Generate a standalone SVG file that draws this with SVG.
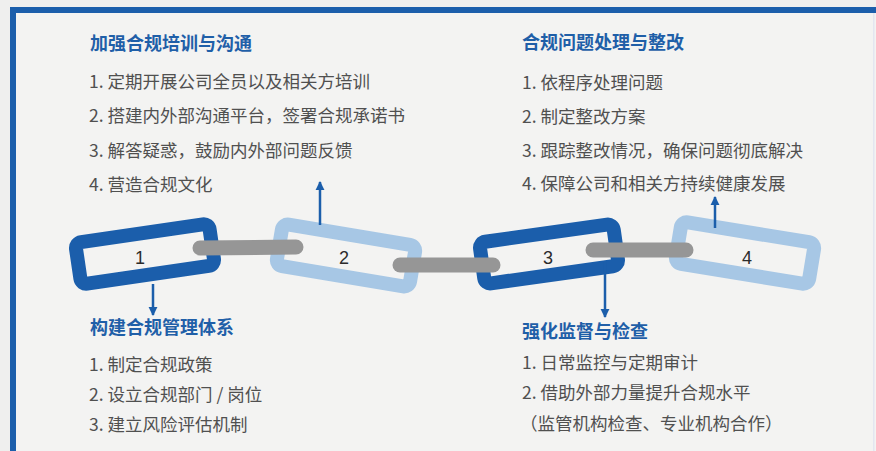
<svg xmlns="http://www.w3.org/2000/svg" width="876" height="451" viewBox="0 0 876 451">
  <style>
    .title { font-family: "Noto Sans CJK SC", "Noto Sans", sans-serif; font-size: 18px; font-weight: 700; fill: #1f5fa8; }
    .item { font-family: "Noto Sans CJK SC", "Noto Sans", sans-serif; font-size: 17.5px; font-weight: 400; fill: #505050; }
    .num { font-family: "Liberation Sans", Arial, sans-serif; font-size: 18px; fill: #2b2b2b; text-anchor: middle; }
    .dark { fill: none; stroke: #1b5eab; stroke-width: 14; }
    .light { fill: none; stroke: #a7c7e5; stroke-width: 14; }
    .bar { stroke: #969696; stroke-width: 15; stroke-linecap: round; fill: none; }
    .arrow { stroke: #1b5eab; stroke-width: 2.5; fill: none; }
  </style>
  <defs>
    <marker id="ah" viewBox="0 0 10 10" refX="9" refY="5" markerWidth="9" markerHeight="10" markerUnits="userSpaceOnUse" orient="auto">
      <path d="M0,0 L10,5 L0,10 Z" fill="#1b5eab"/>
    </marker>
  </defs>

  <!-- background and frame -->
  <rect x="0" y="0" width="876" height="451" fill="#efefee"/>
  <rect x="16" y="13" width="860" height="438" fill="#f3f3f2"/>
  <rect x="10" y="7" width="866" height="6" fill="#1b5eab"/>
  <rect x="10" y="7" width="6" height="444" fill="#1b5eab"/>
  <rect x="873" y="13" width="1.5" height="438" fill="#e3e6f0"/>

  <!-- chain links (nodes) -->
  <g id="link1">
    <rect class="dark" x="-67.5" y="-21" width="135" height="42" rx="6" transform="translate(145,254) rotate(-8.3)"/>
    <text class="num" x="140" y="263.5">1</text>
  </g>
  <g id="link2">
    <rect class="light" x="-67.5" y="-21" width="135" height="42" rx="6" transform="translate(346,255.5) rotate(9.5)"/>
    <text class="num" x="344" y="263.5">2</text>
  </g>
  <g id="link3">
    <rect class="dark" x="-67.5" y="-21" width="135" height="42" rx="6" transform="translate(549,254) rotate(-8)"/>
    <text class="num" x="548" y="263.5">3</text>
  </g>
  <g id="link4">
    <rect class="light" x="-67.5" y="-21" width="135" height="42" rx="6" transform="translate(745,253) rotate(9.3)"/>
    <text class="num" x="747" y="263.5">4</text>
  </g>

  <!-- connectors -->
  <g id="connectors">
    <line class="bar" x1="200" y1="248" x2="296" y2="247"/>
    <line class="bar" x1="400" y1="265" x2="493" y2="265"/>
    <line class="bar" x1="593" y1="250" x2="686" y2="250"/>
    <line class="arrow" x1="153" y1="284" x2="153" y2="315" marker-end="url(#ah)"/>
    <line class="arrow" x1="320" y1="225" x2="320" y2="182" marker-end="url(#ah)"/>
    <line class="arrow" x1="605" y1="262" x2="605" y2="317" marker-end="url(#ah)"/>
    <line class="arrow" x1="715" y1="228" x2="715" y2="197" marker-end="url(#ah)"/>
  </g>

  <!-- text blocks -->
  <g id="block-training">
    <text class="title" x="90" y="50">加强合规培训与沟通</text>
    <text class="item" x="89" y="88">1. 定期开展公司全员以及相关方培训</text>
    <text class="item" x="89" y="122">2. 搭建内外部沟通平台，签署合规承诺书</text>
    <text class="item" x="89" y="156.5">3. 解答疑惑，鼓励内外部问题反馈</text>
    <text class="item" x="89" y="190.5">4. 营造合规文化</text>
  </g>
  <g id="block-rectify">
    <text class="title" x="522" y="48.5">合规问题处理与整改</text>
    <text class="item" x="522" y="88.5">1. 依程序处理问题</text>
    <text class="item" x="522" y="122.5">2. 制定整改方案</text>
    <text class="item" x="522" y="156.5">3. 跟踪整改情况，确保问题彻底解决</text>
    <text class="item" x="522" y="190">4. 保障公司和相关方持续健康发展</text>
  </g>
  <g id="block-system">
    <text class="title" x="90" y="333.5">构建合规管理体系</text>
    <text class="item" x="89" y="370.5">1. 制定合规政策</text>
    <text class="item" x="89" y="400.5">2. 设立合规部门 / 岗位</text>
    <text class="item" x="89" y="430.5">3. 建立风险评估机制</text>
  </g>
  <g id="block-supervision">
    <text class="title" x="522" y="337.5">强化监督与检查</text>
    <text class="item" x="522" y="369">1. 日常监控与定期审计</text>
    <text class="item" x="522" y="399">2. 借助外部力量提升合规水平</text>
    <text class="item" x="520" y="429.5">（监管机构检查、专业机构合作）</text>
  </g>
</svg>
